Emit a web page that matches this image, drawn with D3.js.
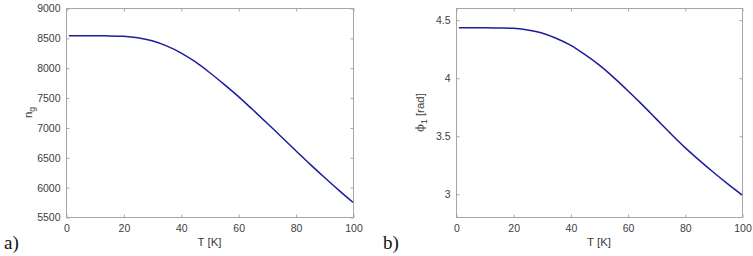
<!DOCTYPE html>
<head>
    <script src="https://d3js.org/d3.v7.min.js"></script>
    <style>
        body { margin: 0; background: #fff; }
        svg text { font-family: "Liberation Sans", Arial, sans-serif; }
    </style>
</head>

<body>
    <div id="chart"></div>
</body>

<script>
    // temperature samples (K) and the two curves
    const temps = [1, 5, 10, 15, 20, 25, 30, 35, 40, 45, 50, 55, 60, 65, 70, 75, 80, 85, 90, 95, 100];
    const ngValues = [8535, 8535, 8535, 8533, 8525, 8500, 8450, 8365, 8250, 8100, 7920,
                      7725, 7520, 7300, 7075, 6845, 6615, 6385, 6165, 5950, 5745];
    const phiValues = [4.43, 4.43, 4.43, 4.428, 4.425, 4.41, 4.385, 4.34, 4.28, 4.20, 4.11,
                       4.005, 3.89, 3.77, 3.645, 3.52, 3.40, 3.29, 3.185, 3.085, 2.99];

    const xTicks = [0, 20, 40, 60, 80, 100];
    const ngTicks = [5500, 6000, 6500, 7000, 7500, 8000, 8500, 9000];
    const phiTicks = [3, 3.5, 4, 4.5];

    const width = 753,
        height = 256;

    const svg = d3.select("#chart")
        .append("svg")
        .attr("width", width)
        .attr("height", height);

    const panels = [
        { label: "a)", left: 66, right: 353, values: ngValues, domain: [5500, 9000], ticks: ngTicks,
          labelX: 4, ylabX: 32 },
        { label: "b)", left: 456, right: 742, values: phiValues, domain: [2.8, 4.6], ticks: phiTicks,
          labelX: 383, ylabX: 424 }
    ];

    const plotTop = 8, plotBottom = 217;
    const axisCol = "#a6a6a6", textCol = "#404040";

    panels.forEach((p, k) => {
        const x = d3.scaleLinear().domain([0, 100]).range([p.left, p.right]);
        const y = d3.scaleLinear().domain(p.domain).range([plotBottom, plotTop]);
        const g = svg.append("g");

        // box
        g.append("rect")
            .attr("x", p.left + 0.5).attr("y", plotTop + 0.5)
            .attr("width", p.right - p.left).attr("height", plotBottom - plotTop)
            .attr("fill", "none").attr("stroke", axisCol);

        // axes with inward ticks, mirrored on top/right
        g.append("g").attr("transform", `translate(0.5,${plotBottom + 0.5})`)
            .call(d3.axisBottom(x).tickValues(xTicks).tickSizeInner(-3).tickSizeOuter(0).tickPadding(7));
        g.append("g").attr("transform", `translate(0.5,${plotTop + 0.5})`)
            .call(d3.axisTop(x).tickValues(xTicks).tickSizeInner(-3).tickSizeOuter(0).tickFormat(""));
        g.append("g").attr("transform", `translate(${p.left + 0.5},0.5)`)
            .call(d3.axisLeft(y).tickValues(p.ticks).tickSizeInner(-3).tickSizeOuter(0).tickPadding(6)
                .tickFormat(d3.format("~g")));
        g.append("g").attr("transform", `translate(${p.right + 0.5},0.5)`)
            .call(d3.axisRight(y).tickValues(p.ticks).tickSizeInner(-3).tickSizeOuter(0).tickFormat(""));

        g.selectAll(".domain").remove();
        g.selectAll(".tick line").attr("stroke", axisCol);
        g.selectAll(".tick text").attr("fill", textCol).style("font-size", "10.5px");

        // curve
        const line = d3.line()
            .x((d, i) => x(temps[i]))
            .y(d => y(d))
            .curve(d3.curveMonotoneX);

        g.append("path")
            .datum(p.values)
            .attr("d", line)
            .attr("fill", "none")
            .attr("stroke", "#1c1c9c")
            .attr("stroke-width", 1.5);

        // x label
        g.append("text")
            .attr("x", (p.left + p.right) / 2).attr("y", 246)
            .attr("text-anchor", "middle")
            .attr("fill", textCol).style("font-size", "11.5px")
            .text("T [K]");

        // y label
        const yl = g.append("text")
            .attr("transform", `translate(${p.ylabX},${(plotTop + plotBottom) / 2}) rotate(-90)`)
            .attr("text-anchor", "middle")
            .attr("fill", textCol).style("font-size", "11.5px");
        if (k == 0) {
            yl.append("tspan").text("n");
            yl.append("tspan").attr("dy", 3).style("font-size", "8.5px").text("g");
        } else {
            yl.append("tspan").style("font-family", "DejaVu Serif").text("\u03d5");
            yl.append("tspan").attr("dy", 3).style("font-size", "8.5px").text("1");
            yl.append("tspan").attr("dy", -3).text(" [rad]");
        }

        // panel letter
        g.append("text")
            .attr("x", p.labelX).attr("y", 249)
            .style("font-family", "'Liberation Serif', 'DejaVu Serif', serif")
            .style("font-size", "19px")
            .attr("fill", "#111")
            .text(p.label);
    });
</script>
</html>
